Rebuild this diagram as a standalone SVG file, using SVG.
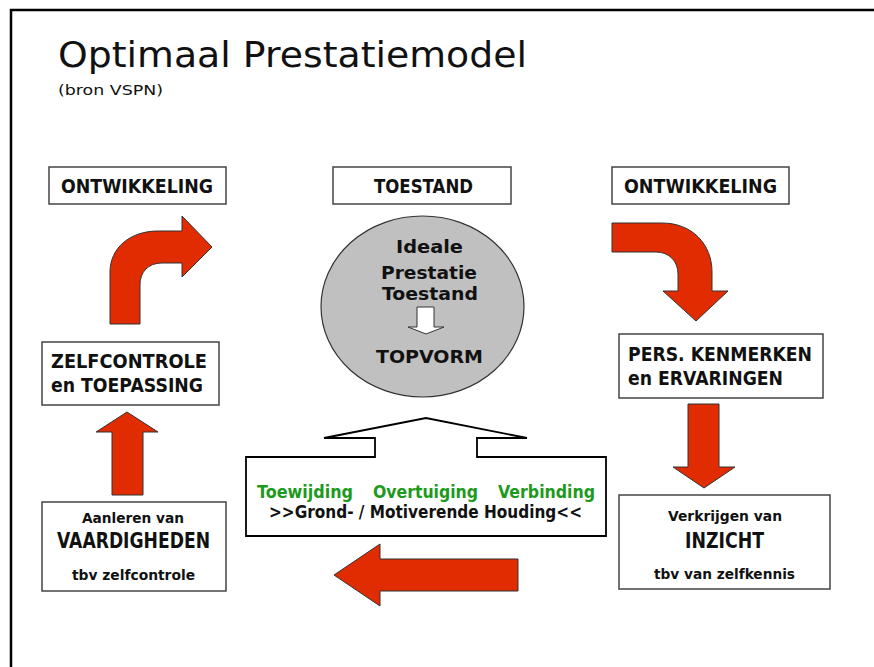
<svg xmlns="http://www.w3.org/2000/svg" width="874" height="667" viewBox="0 0 874 667">
<style>
.box{fill:#fff;stroke:#444;stroke-width:1.5}
.red{fill:#E02C00;stroke:#333;stroke-width:1}
.t{font-family:"DejaVu Sans","Liberation Sans",sans-serif;fill:#111}
.b{font-weight:bold}
.g{fill:#1c9a1c}
</style>
<rect x="0" y="0" width="874" height="667" fill="#fff"/>
<rect x="11" y="10" width="880" height="680" fill="none" stroke="#000" stroke-width="2.5"/>
<g id="title">
<text class="t" x="58" y="67" font-size="35" textLength="469" lengthAdjust="spacingAndGlyphs">Optimaal Prestatiemodel</text>
<text class="t" x="58" y="95" font-size="14" textLength="105" lengthAdjust="spacingAndGlyphs">(bron VSPN)</text>
</g>
<g id="ontw-left">
<rect class="box" x="49" y="167" width="177" height="37"/>
<text class="t b" x="61" y="193" font-size="19" textLength="152" lengthAdjust="spacingAndGlyphs">ONTWIKKELING</text>
</g>
<g id="toestand">
<rect class="box" x="333" y="167" width="178" height="37"/>
<text class="t b" x="374" y="193" font-size="19" textLength="99" lengthAdjust="spacingAndGlyphs">TOESTAND</text>
</g>
<g id="ontw-right">
<rect class="box" x="612" y="167" width="177" height="37"/>
<text class="t b" x="624" y="193" font-size="19" textLength="153" lengthAdjust="spacingAndGlyphs">ONTWIKKELING</text>
</g>
<g id="ideale">
<ellipse cx="422.5" cy="306.5" rx="101.5" ry="90.5" fill="#c0c0c0" stroke="#333" stroke-width="1.2"/>
<text class="t b" x="396" y="253" font-size="17" textLength="67" lengthAdjust="spacingAndGlyphs">Ideale</text>
<text class="t b" x="381" y="279" font-size="17" textLength="96" lengthAdjust="spacingAndGlyphs">Prestatie</text>
<text class="t b" x="382" y="300" font-size="17" textLength="96" lengthAdjust="spacingAndGlyphs">Toestand</text>
<path d="M417,307 L434,307 L434,327 L444,327 L426,334 L408,327 L417,327 Z" fill="#fff" stroke="#333" stroke-width="1"/>
<text class="t b" x="376" y="363" font-size="17.5" textLength="107" lengthAdjust="spacingAndGlyphs">TOPVORM</text>
</g>
<g id="zelfcontrole">
<rect class="box" x="42" y="342" width="177" height="63"/>
<text class="t b" x="51" y="368" font-size="20" textLength="156" lengthAdjust="spacingAndGlyphs">ZELFCONTROLE</text>
<text class="t b" x="51" y="392" font-size="20" textLength="152" lengthAdjust="spacingAndGlyphs">en TOEPASSING</text>
</g>
<g id="pers">
<rect class="box" x="619" y="334" width="204" height="64"/>
<text class="t b" x="628" y="361" font-size="20" textLength="184" lengthAdjust="spacingAndGlyphs">PERS. KENMERKEN</text>
<text class="t b" x="628" y="385" font-size="20" textLength="155" lengthAdjust="spacingAndGlyphs">en ERVARINGEN</text>
</g>
<g id="houding">
<path d="M246,457 L375,457 L375,438 L324,438 L426,418 L527,438 L477,438 L477,457 L606,457 L606,536 L246,536 Z" fill="#fff" stroke="#000" stroke-width="1.8" stroke-linejoin="miter"/>
<text class="t b g" x="257" y="498" font-size="18" textLength="96" lengthAdjust="spacingAndGlyphs">Toewijding</text>
<text class="t b g" x="373" y="498" font-size="18" textLength="105" lengthAdjust="spacingAndGlyphs">Overtuiging</text>
<text class="t b g" x="498" y="498" font-size="18" textLength="97" lengthAdjust="spacingAndGlyphs">Verbinding</text>
<text class="t b" x="269" y="518" font-size="18" textLength="313" lengthAdjust="spacingAndGlyphs">&gt;&gt;Grond- / Motiverende Houding&lt;&lt;</text>
</g>
<g id="vaardigheden">
<rect class="box" x="42" y="502" width="184" height="89"/>
<text class="t b" x="82" y="523" font-size="14.5" textLength="102" lengthAdjust="spacingAndGlyphs">Aanleren van</text>
<text class="t b" x="57" y="548" font-size="21" textLength="153" lengthAdjust="spacingAndGlyphs">VAARDIGHEDEN</text>
<text class="t b" x="72" y="580" font-size="14.5" textLength="123" lengthAdjust="spacingAndGlyphs">tbv zelfcontrole</text>
</g>
<g id="inzicht">
<rect class="box" x="619" y="495" width="211" height="94"/>
<text class="t b" x="668" y="521" font-size="14.5" textLength="114" lengthAdjust="spacingAndGlyphs">Verkrijgen van</text>
<text class="t b" x="685" y="548" font-size="21" textLength="79" lengthAdjust="spacingAndGlyphs">INZICHT</text>
<text class="t b" x="654" y="579" font-size="14.5" textLength="141" lengthAdjust="spacingAndGlyphs">tbv van zelfkennis</text>
</g>
<g id="connectors">
<path class="red" d="M110,324 L110,272 C110,248 130,231 158,231 L182,231 L182,216 L212,247 L182,277 L182,263 L162,263 C148,263 140,272 140,285 L140,324 Z"/>
<path class="red" d="M612,223 L662,223 C692,223 712,244 712,272 L712,291 L728,291 L696,321 L663,291 L678,291 L678,274 C678,261 669,252 656,252 L612,252 Z"/>
<path class="red" d="M112,495 L112,432 L96,432 L127,412 L158,432 L143,432 L143,495 Z"/>
<path class="red" d="M688,404 L719,404 L719,467 L735,467 L704,488 L673,467 L688,467 Z"/>
<path class="red" d="M518,559 L380,559 L380,544 L334,575 L380,606 L380,591 L518,591 Z"/>
</g>
</svg>
